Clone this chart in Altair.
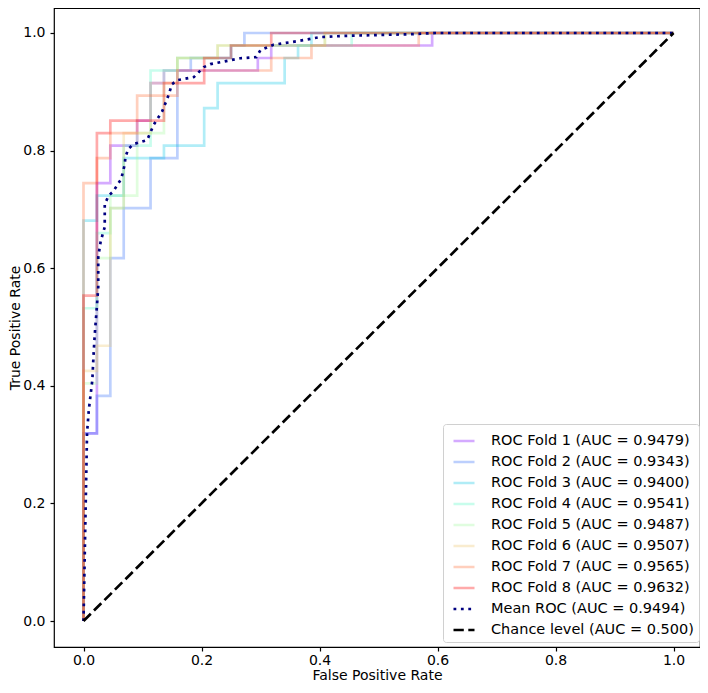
import altair as alt
import pandas as pd

# ROC curves per fold, as counts of false / true positives (44 negatives, 47 positives per fold)
n_neg = 44
n_pos = 47

fold_names = [
    "ROC Fold 1 (AUC = 0.9479)",
    "ROC Fold 2 (AUC = 0.9343)",
    "ROC Fold 3 (AUC = 0.9400)",
    "ROC Fold 4 (AUC = 0.9541)",
    "ROC Fold 5 (AUC = 0.9487)",
    "ROC Fold 6 (AUC = 0.9507)",
    "ROC Fold 7 (AUC = 0.9565)",
    "ROC Fold 8 (AUC = 0.9632)",
]
mean_name = "Mean ROC (AUC = 0.9494)"
chance_name = "Chance level (AUC = 0.500)"

fold_fp = [
    [0, 0, 1, 1, 2, 2, 4, 4, 5, 5, 6, 6, 13, 13, 14, 14, 26, 26, 44],
    [0, 0, 1, 1, 2, 2, 3, 3, 5, 5, 7, 7, 8, 8, 11, 11, 12, 12, 44],
    [0, 0, 1, 1, 3, 3, 6, 6, 9, 9, 10, 10, 15, 15, 16, 16, 17, 17, 44],
    [0, 0, 1, 1, 2, 2, 3, 3, 5, 5, 7, 7, 11, 11, 20, 20, 44],
    [0, 0, 1, 1, 2, 2, 4, 4, 6, 6, 7, 7, 10, 10, 18, 18, 44],
    [0, 0, 1, 1, 2, 2, 3, 3, 5, 5, 7, 7, 10, 10, 18, 18, 44],
    [0, 0, 1, 1, 2, 2, 4, 4, 7, 7, 14, 14, 17, 17, 25, 25, 44],
    [0, 0, 1, 1, 2, 2, 6, 6, 9, 9, 11, 11, 14, 14, 44],
]
fold_tp = [
    [0, 15, 15, 35, 35, 38, 38, 40, 40, 43, 43, 44, 44, 45, 45, 46, 46, 47, 47],
    [0, 15, 15, 18, 18, 29, 29, 33, 33, 37, 37, 44, 44, 45, 45, 46, 46, 47, 47],
    [0, 32, 32, 34, 34, 37, 37, 38, 38, 41, 41, 43, 43, 45, 45, 46, 46, 47, 47],
    [0, 25, 25, 31, 31, 33, 33, 38, 38, 44, 44, 45, 45, 46, 46, 47, 47],
    [0, 19, 19, 29, 29, 34, 34, 39, 39, 44, 44, 45, 45, 46, 46, 47, 47],
    [0, 20, 20, 22, 22, 33, 33, 39, 39, 43, 43, 45, 45, 46, 46, 47, 47],
    [0, 35, 35, 37, 37, 39, 39, 42, 42, 44, 44, 45, 45, 46, 46, 47, 47],
    [0, 26, 26, 39, 39, 40, 40, 43, 43, 45, 45, 46, 46, 47, 47],
]

mean_fpr = [0, 0.006, 0.009, 0.015, 0.017, 0.019, 0.022, 0.025, 0.025, 0.029,
            0.032, 0.036, 0.036, 0.043, 0.050, 0.057, 0.064, 0.070, 0.071,
            0.076, 0.085, 0.108, 0.119, 0.133, 0.143, 0.150, 0.160, 0.187,
            0.204, 0.215, 0.266, 0.293, 0.300, 0.322, 0.362, 0.401, 0.440,
            0.556, 0.596, 1.0]
mean_tpr = [0, 0.320, 0.359, 0.410, 0.452, 0.486, 0.526, 0.568, 0.619, 0.645,
            0.656, 0.670, 0.709, 0.724, 0.730, 0.741, 0.752, 0.777, 0.789,
            0.803, 0.811, 0.818, 0.844, 0.866, 0.891, 0.913, 0.920, 0.925,
            0.942, 0.947, 0.957, 0.959, 0.971, 0.980, 0.986, 0.993, 0.995,
            0.998, 1.0, 1.0]

chance_fpr = [0, 1]
chance_tpr = [0, 1]

fold_colors = ["#8000ff", "#376ff9", "#12c7e6", "#5bf9c7",
               "#a4f99f", "#edc76f", "#ff6f39", "#ff0000"]

rows = []
for name, fps, tps in zip(fold_names, fold_fp, fold_tp):
    for i, (fp, tp) in enumerate(zip(fps, tps)):
        rows.append({"series": name, "fpr": fp / n_neg, "tpr": tp / n_pos, "idx": i})
for i, (f, t) in enumerate(zip(mean_fpr, mean_tpr)):
    rows.append({"series": mean_name, "fpr": f, "tpr": t, "idx": i})
for i, (f, t) in enumerate(zip(chance_fpr, chance_tpr)):
    rows.append({"series": chance_name, "fpr": f, "tpr": t, "idx": i})
df = pd.DataFrame(rows)

names = fold_names + [mean_name, chance_name]
legend = alt.Legend(
    title=None, orient="none", legendX=389, legendY=416,
    symbolType="stroke", symbolSize=441, symbolStrokeWidth=2.7, symbolOffset=4,
    labelFont="DejaVu Sans", labelFontSize=14.5, labelColor="#000000",
    labelLimit=300, labelOffset=15, rowPadding=2, padding=5,
    fillColor="rgba(255,255,255,0.8)", strokeColor="#d0d0d0", cornerRadius=3,
)

ticks = [0, 0.2, 0.4, 0.6, 0.8, 1.0]
base = alt.Chart(df).mark_line(strokeWidth=2.7, strokeCap="butt", clip=True).encode(
    x=alt.X("fpr:Q", title="False Positive Rate",
            scale=alt.Scale(domain=[-0.05, 1.0449], nice=False, zero=False),
            axis=alt.Axis(values=ticks, format=".1f", labelPadding=2, titlePadding=1)),
    y=alt.Y("tpr:Q", title="True Positive Rate",
            scale=alt.Scale(domain=[-0.0442, 1.0425], nice=False, zero=False),
            axis=alt.Axis(values=ticks, format=".1f", labelPadding=5, titlePadding=0)),
    color=alt.Color("series:N", scale=alt.Scale(domain=names, range=fold_colors + ["#000080", "#000000"]),
                    legend=legend),
    opacity=alt.Opacity("series:N",
                        scale=alt.Scale(type="ordinal", domain=names, range=[0.33] * 8 + [1, 1]),
                        legend=legend),
    strokeDash=alt.StrokeDash("series:N",
                              scale=alt.Scale(domain=names, range=[[1, 0]] * 8 + [[2.8, 4.6], [10.3, 4.5]]),
                              legend=legend),
    order=alt.Order("idx:Q"),
)

chart = base.properties(
    width=646, height=639,
    background="white",
    autosize=alt.AutoSizeParams(type="none"),
    padding={"left": 46, "top": 0, "right": 0, "bottom": 37},
).configure_view(
    stroke="#000000", strokeWidth=1.2,
).configure_axis(
    grid=False, domain=False,
    labelFont="DejaVu Sans", labelFontSize=14, labelColor="#000000",
    titleFont="DejaVu Sans", titleFontSize=14, titleFontWeight="normal", titleColor="#000000",
    tickColor="#000000", tickSize=4, tickWidth=1.2,
)

chart.save("out.html", embed_options={"renderer": "svg", "actions": False})
